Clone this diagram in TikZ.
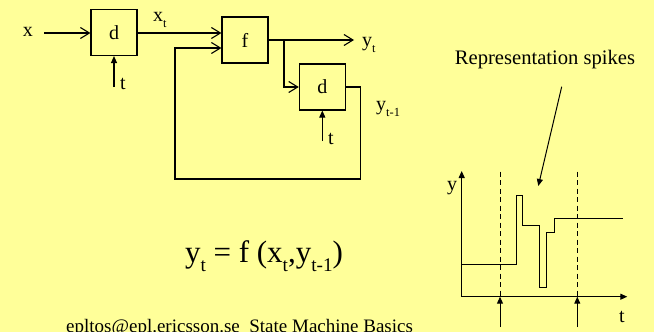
\documentclass[tikz,border=0pt]{standalone}
\usepackage{fontspec}
\setmainfont{Liberation Serif}
\usetikzlibrary{arrows.meta}
\definecolor{bg}{HTML}{FFFF99}
\newcommand\fs[1]{\fontsize{#1}{#1}\selectfont}
\newcommand\sbs[1]{\raisebox{-0.3em}{\scalebox{0.62}{#1}}}
\tikzset{
  blk/.style={draw, line width=1.1pt, minimum width=46pt, minimum height=46pt, inner sep=0pt, font=\fs{20}},
  lbl/.style={inner sep=0pt, font=\fs{20}},
  wire/.style={line width=1.1pt},
  dat/.style={wire, -{Straight Barb[length=9pt,width=11pt,line width=1.1pt]}},
  clk/.style={wire, -{Triangle[length=7pt,width=6pt]}},
  thin/.style={line width=1pt},
}
\begin{document}
\begin{tikzpicture}[x=1pt,y=-1pt]
\fill[bg] (0,0) rectangle (654,332);
\useasboundingbox (0,0) rectangle (654,332);
% blocks
\node[blk] (d1) at (114,32.5) {d};
\node[blk] (f) at (245,40) {f};
\node[blk] (d2) at (322.3,87) {d};
% labels
\node[lbl, anchor=base] (lx) at (28,36) {x};
\coordinate (xin) at (44,33);
\node[lbl, anchor=base west] (lxt) at (153,21) {x\sbs{t}};
\node[lbl, anchor=base west] (lyt) at (362,46) {y\sbs{t}};
\node[lbl, anchor=base west] (lyt1) at (376,110) {y\sbs{t-1}};
\node[lbl, anchor=base west] (lt1) at (120,89) {t};
\node[lbl, anchor=base west] (lt2) at (328,144) {t};
\coordinate (t1) at (114,87);
\coordinate (t2) at (322.3,141);
\coordinate (yout) at (354,40);
\coordinate (br) at (284,40);
\coordinate (fb1) at (360.7,87);
\coordinate (fb2) at (360.7,179);
\coordinate (fb3) at (175,179);
\coordinate (fb4) at (175,48);
% connectors
\draw[dat] (xin) -- (d1.west |- xin);
\draw[dat] (d1.east |- xin) -- (f.west |- xin);
\draw[dat] (f.east) -- (yout);
\draw[dat] (br) -- (br |- d2.west) -- (d2.west);
\draw[dat] (d2.east) -- (fb1) -- (fb2) -- (fb3) -- (fb4) -- (f.west |- fb4);
\draw[clk] (t1) -- (d1.south);
\draw[clk] (t2) -- (d2.south);
% equation
\node[inner sep=0pt, anchor=base, font=\fs{31}] (eq) at (264,262) {y\sbs{t} = f (x\sbs{t},y\sbs{t-1})};
% footer
\node[inner sep=0pt, anchor=base west, font=\fs{19}] (foot) at (66,332) {epltos@epl.ericsson.se\ \ State Machine Basics};
% graph
\coordinate (org) at (461.7,296.7);
\coordinate (ytop) at (461.7,171);
\coordinate (tend) at (627.3,296.7);
\draw[clk, thin] (org) -- (ytop);
\draw[clk, thin] (org) -- (tend);
\node[lbl, anchor=base] (ly) at (452,190) {y};
\node[lbl, anchor=base] (lt) at (622,322) {t};
\coordinate (da) at (500,171.7);
\coordinate (db) at (577.3,171.7);
\coordinate (ca) at (500,327);
\coordinate (cb) at (577.3,327);
\draw[thin, dash pattern=on 5pt off 3.5pt] (da) -- (da |- org);
\draw[thin, dash pattern=on 5pt off 3.5pt] (db) -- (db |- org);
\draw[clk, thin] (ca) -- (ca |- org);
\draw[clk, thin] (cb) -- (cb |- org);
\draw[thin] (461.7,264.3) -- (516,264.3) -- (516,195) -- (522.7,195) -- (522.7,225) -- (539,225) -- (539,287.3) -- (546,287.3) -- (546,232.7) -- (554,232.7) -- (554,218.3) -- (623.3,218.3);
\node[lbl, anchor=base, font=\fs{20.6}] (rep) at (545,64) {Representation spikes};
\coordinate (ra) at (561.7,86.7);
\coordinate (rb) at (538.3,186);
\draw[clk, thin] (ra) -- (rb);
\end{tikzpicture}
\end{document}
